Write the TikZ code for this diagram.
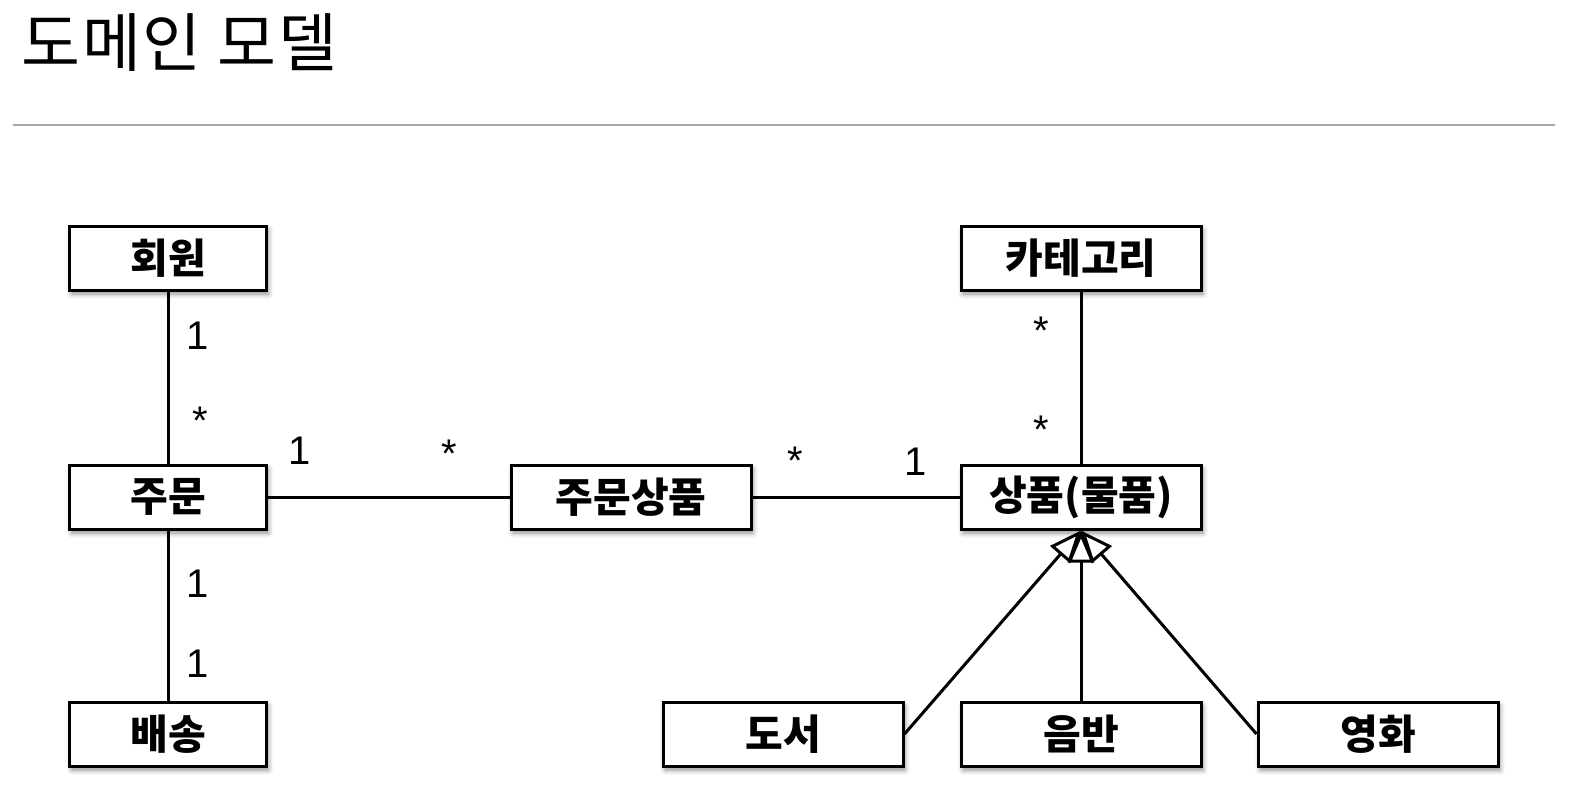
\documentclass[tikz,border=0pt]{standalone}
\usepackage{fontspec}
\setmainfont{Liberation Sans}
\newfontfamily\krfont{Noto Sans CJK KR}
\usetikzlibrary{arrows.meta, shadows.blur}

\begin{document}
\begin{tikzpicture}[x=1pt, y=-1pt,
    entity/.style={draw, line width=3pt, fill=white, minimum width=240pt, minimum height=64pt, inner sep=0pt,
        font=\krfont\bfseries\fontsize{41}{41}\selectfont,
        blur shadow={shadow xshift=2pt, shadow yshift=-4pt, shadow blur radius=5pt, shadow opacity=45}},
    narrow/.style={entity, minimum width=197pt},
    mult/.style={inner sep=0pt, font=\fontsize{40}{40}\selectfont},
    assoc/.style={line width=3pt},
    inherit/.style={line width=3pt, -{Triangle[fill=white, length=32pt, width=26pt, line width=3pt]}}]
            \useasboundingbox (0,0) rectangle (1582,804);
            \coordinate (RuleMin) at (13,125);
            \coordinate (RuleMax) at (1555,125);
            \node[anchor=west, inner sep=0pt, font=\krfont\fontsize{64}{64}\selectfont\addfontfeature{LetterSpace=3}] (Title) at (21,43) {도메인 모델};
            \draw[black!35, line width=2pt] (RuleMin) -- (RuleMax);% Draw rule under title

            \node[narrow] (Member)   at (168,258) {회원};
            \node[narrow] (Order)    at (168,497) {주문};
            \node[narrow] (Delivery) at (168,734) {배송};
            \node[entity] (OrderItem) at (631,497) {주문상품};
            \node[entity] (Category) at (1081,258) {카테고리};
            \node[entity] (Item)     at (1081,497) {상품(물품)};
            \node[entity] (Book)     at (783,734) {도서};
            \node[entity] (Album)    at (1081,734) {음반};
            \node[entity] (Movie)    at (1378,734) {영화};

            \draw[assoc] (Member) -- (Order);
            \draw[assoc] (Order) -- (Delivery);
            \draw[assoc] (Order) -- (OrderItem);
            \draw[assoc] (OrderItem) -- (Item);
            \draw[assoc] (Category) -- (Item);

            % generalization
            \coordinate (Tip) at (Item.south);
            \draw[inherit] (Book.east) -- (Tip);
            \draw[inherit] (Movie.west) -- (Tip);
            \draw[inherit] (Album.north) -- (Tip);

            \node[mult] (MemberOne)    at (198,336) {1};
            \node[mult] (OrderMany)    at (200,421) {*};
            \node[mult] (OrderOne)     at (300,451) {1};
            \node[mult] (ItemsMany)    at (449,454) {*};
            \node[mult] (ItemsMany2)   at (795,461) {*};
            \node[mult] (ItemOne)      at (916,462) {1};
            \node[mult] (CategoryMany) at (1041,331) {*};
            \node[mult] (ItemMany)     at (1041,430) {*};
            \node[mult] (OrderOne2)    at (198,584) {1};
            \node[mult] (DeliveryOne)  at (198,664) {1};
        \end{tikzpicture}
\end{document}
